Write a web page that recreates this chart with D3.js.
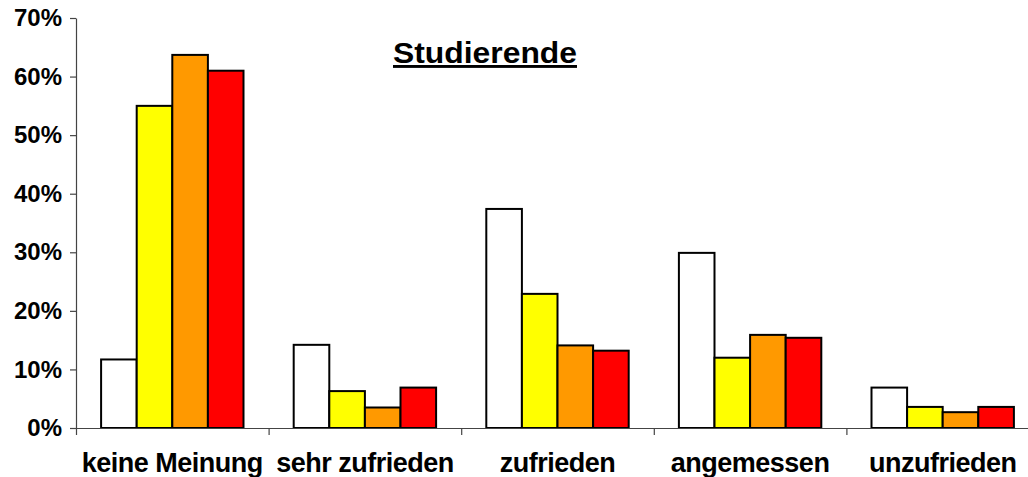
<!DOCTYPE html>
<html>
<head>
<meta charset="utf-8">
<script src="https://cdn.jsdelivr.net/npm/d3@7"></script>
<style>
  html, body { margin: 0; padding: 0; background: #fff; }
  svg { display: block; font-family: "Liberation Sans", Arial, sans-serif; font-weight: bold; }
</style>
</head>
<body>
<div id="chart"></div>
<script>
// chart data
const categories = ['keine Meinung', 'sehr zufrieden', 'zufrieden', 'angemessen', 'unzufrieden'];
const seriesNames = ['s1', 's2', 's3', 's4'];
const seriesColors = ['#ffffff', '#ffff00', '#ff9900', '#ff0000'];
const s1Values = [0.117, 0.142, 0.374, 0.299, 0.069];
const s2Values = [0.550, 0.063, 0.229, 0.120, 0.036];
const s3Values = [0.637, 0.035, 0.141, 0.159, 0.027];
const s4Values = [0.610, 0.069, 0.132, 0.154, 0.036];
const yTicks = [0, 0.1, 0.2, 0.3, 0.4, 0.5, 0.6, 0.7];
const chartTitle = 'Studierende';

const allSeries = [s1Values, s2Values, s3Values, s4Values];

const width = 1028, height = 477;
const plotLeft = 76, plotRight = 1039, plotTop = 18, plotBottom = 428;

const svg = d3.select('#chart').append('svg')
    .attr('width', width)
    .attr('height', height);

const x0 = d3.scaleBand()
    .domain(categories)
    .range([plotLeft, plotRight])
    .paddingInner(0)
    .paddingOuter(0);

const x1 = d3.scaleBand()
    .domain(seriesNames)
    .range([0, x0.bandwidth()])
    .paddingInner(0)
    .paddingOuter(0.705);

const y = d3.scaleLinear()
    .domain([0, 0.7])
    .range([plotBottom, plotTop]);

// boundaries for the category ticks
const xEdge = d3.scaleLinear()
    .domain([0, categories.length])
    .range([plotLeft, plotRight]);

// bars
const groups = svg.append('g')
    .selectAll('g')
    .data(categories)
    .enter()
    .append('g')
    .attr('transform', d => `translate(${x0(d)},0)`);

groups.selectAll('rect')
    .data((d, i) => seriesNames.map((s, j) => ({ s: s, v: allSeries[j][i], c: seriesColors[j] })))
    .enter()
    .append('rect')
    .attr('x', d => x1(d.s))
    .attr('y', d => y(d.v))
    .attr('width', x1.bandwidth())
    .attr('height', d => y(0) - y(d.v))
    .attr('fill', d => d.c)
    .attr('stroke', '#000')
    .attr('stroke-width', 2);

// y axis
const yAxis = svg.append('g')
    .attr('transform', `translate(${plotLeft},0)`)
    .call(d3.axisLeft(y)
        .tickValues(yTicks)
        .tickFormat(d3.format('.0%'))
        .tickSize(6)
        .tickSizeOuter(0)
        .tickPadding(8));

yAxis.selectAll('text')
    .style('font-size', '24px')
    .style('font-weight', 'bold')
    .style('font-family', '"Liberation Sans", Arial, sans-serif')
    .attr('fill', '#000');

// x axis
const xAxis = svg.append('g')
    .attr('transform', `translate(0,${plotBottom})`)
    .call(d3.axisBottom(xEdge)
        .tickValues(d3.range(categories.length + 1))
        .tickFormat('')
        .tickSize(7)
        .tickSizeOuter(0));

svg.selectAll('.domain, .tick line')
    .attr('stroke', '#444')
    .attr('stroke-width', 1.2);

// category labels
svg.append('g')
    .selectAll('text')
    .data(categories)
    .enter()
    .append('text')
    .attr('x', d => x0(d) + x0.bandwidth() / 2)
    .attr('y', 472)
    .attr('text-anchor', 'middle')
    .style('font-size', '27px')
    .style('letter-spacing', '-0.5px')
    .text(d => d);

// title
svg.append('text')
    .attr('x', 485)
    .attr('y', 63)
    .attr('text-anchor', 'middle')
    .attr('textLength', 184)
    .attr('lengthAdjust', 'spacingAndGlyphs')
    .style('font-size', '29px')
    .style('text-decoration', 'underline')
    .text(chartTitle);
</script>
</body>
</html>
